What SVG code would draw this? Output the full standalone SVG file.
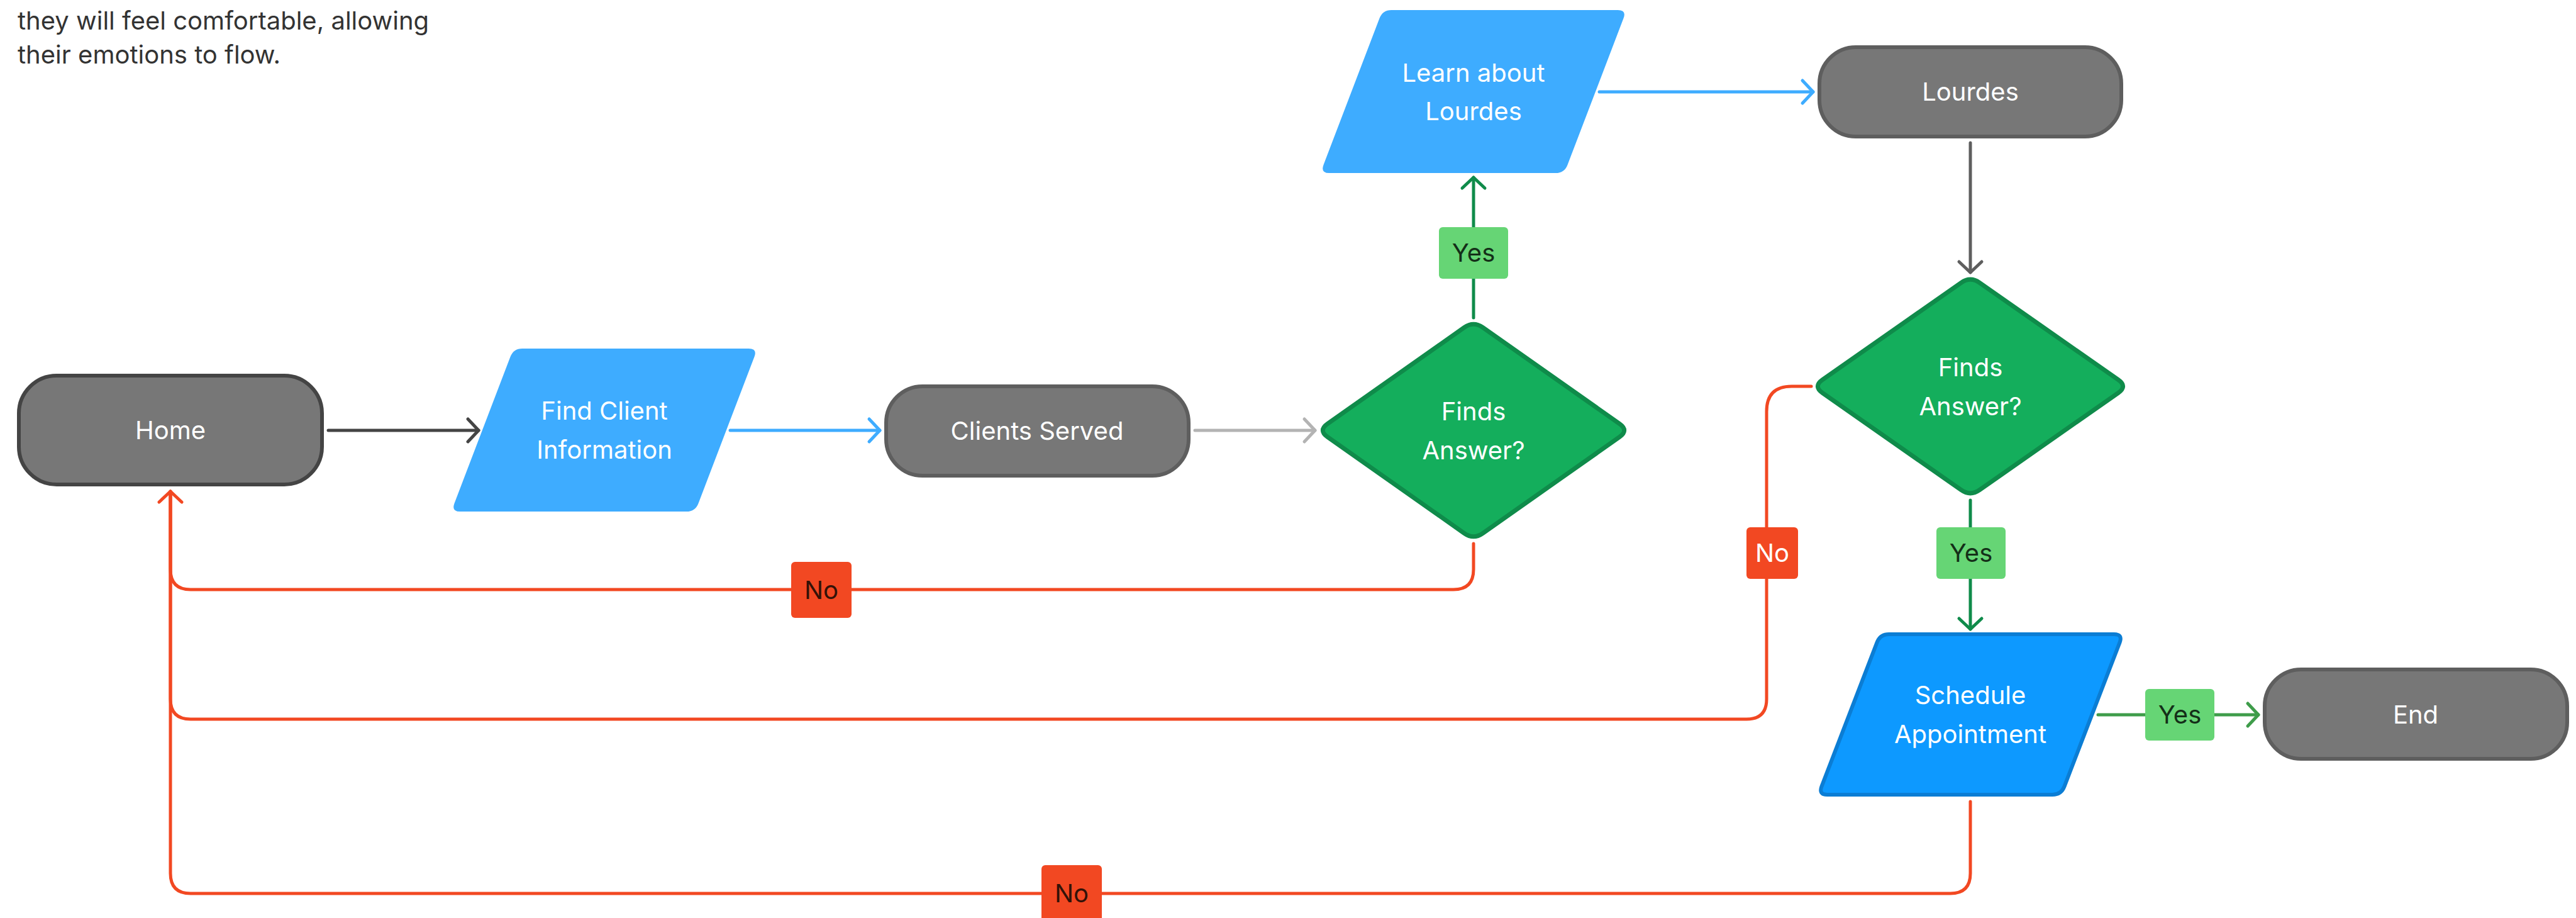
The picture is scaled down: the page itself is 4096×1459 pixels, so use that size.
<svg xmlns="http://www.w3.org/2000/svg" width="4096" height="1459" viewBox="0 0 4096 1459">
  <style>
    text { font-family: Inter, "Liberation Sans", sans-serif; font-size: 40px; text-anchor: middle; }
    .note { text-anchor: start; fill: #333333; }
    .term rect { fill: #777777; stroke: #5e5e5e; stroke-width: 6; }
    .term.home rect { stroke: #444444; }
    .term text, .io text, .decision text { fill: #ffffff; }
    .io path { fill: #3eacff; }
    .io.strong path { fill: #0d99ff; stroke: #0b7dd4; stroke-width: 6; }
    .decision path { fill: #14ae5c; stroke: #0f8b4a; stroke-width: 7; stroke-linejoin: round; }
    .wire { fill: none; stroke-width: 5; stroke-linecap: round; stroke-linejoin: round; }
    .yes rect { fill: #66d575; }
    .yes text { fill: #142f18; }
    .no rect { fill: #f24822; }
    .no text { fill: #331208; }
    .no.light text { fill: #ffffff; }
  </style>
  <defs>
    <marker id="ah-dark" markerUnits="userSpaceOnUse" orient="auto" overflow="visible" refX="0" refY="0" markerWidth="1" markerHeight="1">
      <path d="M-17,-18 L0,0 L-17,18" fill="none" stroke="#444444" stroke-width="5" stroke-linecap="round" stroke-linejoin="round"/>
    </marker>
    <marker id="ah-blue" markerUnits="userSpaceOnUse" orient="auto" overflow="visible" refX="0" refY="0" markerWidth="1" markerHeight="1">
      <path d="M-17,-18 L0,0 L-17,18" fill="none" stroke="#3eacff" stroke-width="5" stroke-linecap="round" stroke-linejoin="round"/>
    </marker>
    <marker id="ah-light" markerUnits="userSpaceOnUse" orient="auto" overflow="visible" refX="0" refY="0" markerWidth="1" markerHeight="1">
      <path d="M-17,-18 L0,0 L-17,18" fill="none" stroke="#b3b3b3" stroke-width="5" stroke-linecap="round" stroke-linejoin="round"/>
    </marker>
    <marker id="ah-grey" markerUnits="userSpaceOnUse" orient="auto" overflow="visible" refX="0" refY="0" markerWidth="1" markerHeight="1">
      <path d="M-17,-18 L0,0 L-17,18" fill="none" stroke="#5e5e5e" stroke-width="5" stroke-linecap="round" stroke-linejoin="round"/>
    </marker>
    <marker id="ah-green" markerUnits="userSpaceOnUse" orient="auto" overflow="visible" refX="0" refY="0" markerWidth="1" markerHeight="1">
      <path d="M-17,-18 L0,0 L-17,18" fill="none" stroke="#0f8b4a" stroke-width="5" stroke-linecap="round" stroke-linejoin="round"/>
    </marker>
    <marker id="ah-leaf" markerUnits="userSpaceOnUse" orient="auto" overflow="visible" refX="0" refY="0" markerWidth="1" markerHeight="1">
      <path d="M-17,-18 L0,0 L-17,18" fill="none" stroke="#3e9c4a" stroke-width="5" stroke-linecap="round" stroke-linejoin="round"/>
    </marker>
    <marker id="ah-red" markerUnits="userSpaceOnUse" orient="auto" overflow="visible" refX="0" refY="0" markerWidth="1" markerHeight="1">
      <path d="M-17,-18 L0,0 L-17,18" fill="none" stroke="#f24822" stroke-width="5" stroke-linecap="round" stroke-linejoin="round"/>
    </marker>
  </defs>

  <rect width="4096" height="1459" fill="#ffffff"/>

  <!-- note text, top left -->
  <g id="note">
    <text class="note" x="28" y="47">they will feel comfortable, allowing</text>
    <text class="note" x="28" y="101">their emotions to flow.</text>
  </g>

  <!-- connectors -->
  <g id="connectors">
    <path class="wire" stroke="#444444" d="M522,684 H761" marker-end="url(#ah-dark)"/>
    <path class="wire" stroke="#3eacff" d="M1161,684 H1399" marker-end="url(#ah-blue)"/>
    <path class="wire" stroke="#b3b3b3" d="M1900,684 H2091" marker-end="url(#ah-light)"/>
    <path class="wire" stroke="#0f8b4a" d="M2343,505 V282" marker-end="url(#ah-green)"/>
    <path class="wire" stroke="#3eacff" d="M2543,146 H2883" marker-end="url(#ah-blue)"/>
    <path class="wire" stroke="#5e5e5e" d="M3133,227 V433" marker-end="url(#ah-grey)"/>
    <path class="wire" stroke="#0f8b4a" d="M3133,795 V1000" marker-end="url(#ah-green)"/>
    <path class="wire" stroke="#3e9c4a" d="M3336,1136 H3591" marker-end="url(#ah-leaf)"/>

    <!-- "No" returns to Home -->
    <path class="wire" stroke="#f24822" d="M2343,864 V905 Q2343,937 2311,937 H303 Q271,937 271,905 V781"/>
    <path class="wire" stroke="#f24822" d="M2880,614 H2849 Q2809,614 2809,654 V1111 Q2809,1143 2777,1143 H303 Q271,1143 271,1111 V781"/>
    <path class="wire" stroke="#f24822" d="M3133,1274 V1388 Q3133,1420 3101,1420 H303 Q271,1420 271,1388 V781" marker-end="url(#ah-red)"/>

    <!-- labels -->
    <g class="yes">
      <rect x="2288" y="361" width="110" height="82" rx="6"/>
      <text x="2343" y="416">Yes</text>
    </g>
    <g class="yes">
      <rect x="3079" y="838" width="110" height="82" rx="6"/>
      <text x="3134" y="893">Yes</text>
    </g>
    <g class="yes">
      <rect x="3411" y="1095" width="110" height="82" rx="6"/>
      <text x="3466" y="1150">Yes</text>
    </g>
    <g class="no">
      <rect x="1258" y="893" width="96" height="89" rx="6"/>
      <text x="1306" y="952">No</text>
    </g>
    <g class="no light">
      <rect x="2777" y="838" width="82" height="82" rx="6"/>
      <text x="2818" y="893">No</text>
    </g>
    <g class="no">
      <rect x="1656" y="1375" width="96" height="89" rx="6"/>
      <text x="1704" y="1434">No</text>
    </g>
  </g>

  <!-- nodes -->
  <g id="home" class="term home">
    <rect x="30" y="597" width="482" height="173" rx="60"/>
    <text x="271" y="698">Home</text>
  </g>

  <g id="find-client" class="io">
    <path d="M830.5,554 H1190.5 Q1204.5,554 1199.5,567.1 L1110.5,799.9 Q1105.5,813 1091.5,813 H731.5 Q717.5,813 722.5,799.9 L811.5,567.1 Q816.5,554 830.5,554 Z"/>
    <text x="961" y="667">Find Client</text>
    <text x="961" y="729">Information</text>
  </g>

  <g id="clients-served" class="term">
    <rect x="1409" y="614" width="481" height="142" rx="58"/>
    <text x="1649" y="699">Clients Served</text>
  </g>

  <g id="decision-1" class="decision">
    <path d="M2357.7,520.4 L2575.3,673.6 Q2590,684 2575.3,694.4 L2357.7,847.6 Q2343,858 2328.3,847.6 L2110.7,694.4 Q2096,684 2110.7,673.6 L2328.3,520.4 Q2343,510 2357.7,520.4 Z"/>
    <text x="2343" y="668">Finds</text>
    <text x="2343" y="730">Answer?</text>
  </g>

  <g id="learn-lourdes" class="io">
    <path d="M2212.5,16 H2572.5 Q2586.5,16 2581.5,29.1 L2492.5,261.9 Q2487.5,275 2473.5,275 H2113.5 Q2099.5,275 2104.5,261.9 L2193.5,29.1 Q2198.5,16 2212.5,16 Z"/>
    <text x="2343" y="130">Learn about</text>
    <text x="2343" y="191">Lourdes</text>
  </g>

  <g id="lourdes" class="term">
    <rect x="2893" y="75" width="480" height="142" rx="58"/>
    <text x="3133" y="160">Lourdes</text>
  </g>

  <g id="decision-2" class="decision">
    <path d="M3147.7,449.3 L3368.3,603.7 Q3383,614 3368.3,624.3 L3147.7,778.7 Q3133,789 3118.3,778.7 L2897.7,624.3 Q2883,614 2897.7,603.7 L3118.3,449.3 Q3133,439 3147.7,449.3 Z"/>
    <text x="3133" y="598">Finds</text>
    <text x="3133" y="660">Answer?</text>
  </g>

  <g id="schedule" class="io strong">
    <path d="M3003.5,1008 H3361.5 Q3375.5,1008 3370.5,1021.1 L3282.5,1249.9 Q3277.5,1263 3263.5,1263 H2905.5 Q2891.5,1263 2896.5,1249.9 L2984.5,1021.1 Q2989.5,1008 3003.5,1008 Z"/>
    <text x="3133" y="1119">Schedule</text>
    <text x="3133" y="1181">Appointment</text>
  </g>

  <g id="end" class="term">
    <rect x="3601" y="1064" width="481" height="142" rx="58"/>
    <text x="3841" y="1150">End</text>
  </g>
</svg>
